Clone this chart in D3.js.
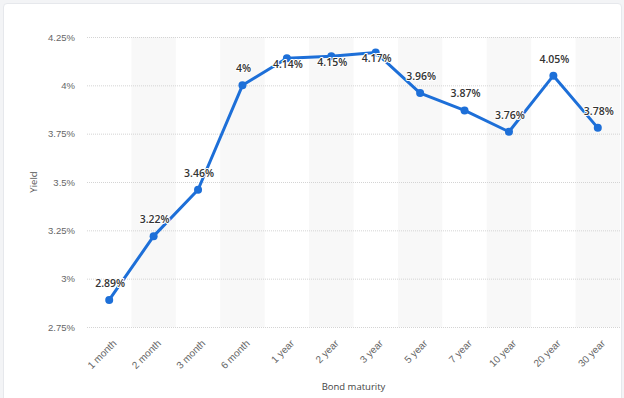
<!DOCTYPE html>
<html>
<head>
<meta charset="utf-8">
<script src="https://cdn.jsdelivr.net/npm/d3@7"></script>
<style>
  body { margin: 0; background: #f3f4f6; }
  #chart { position: absolute; left: 3px; top: 3px; width: 619px; height: 400px; background: #fff;
           border: 1px solid #e6e8ec; border-radius: 4px; box-sizing: border-box; }
  svg { position: absolute; left: 0; top: 0; font-family: "Open Sans", sans-serif; }
</style>
</head>
<body>
<div id="chart"></div>
<svg id="svg" width="624" height="398"></svg>
<script>
var maturities = ["1 month", "2 month", "3 month", "6 month", "1 year", "2 year",
                  "3 year", "5 year", "7 year", "10 year", "20 year", "30 year"];
var yields = [2.89, 3.22, 3.46, 4, 4.14, 4.15, 4.17, 3.96, 3.87, 3.76, 4.05, 3.78];
var yTicks = [2.75, 3, 3.25, 3.5, 3.75, 4, 4.25];

var margin = {top: 37, right: 3, bottom: 71, left: 87},
    width = 624 - margin.left - margin.right,
    height = 398 - margin.top - margin.bottom;

var x = d3.scaleBand().domain(maturities).range([0, 533]);
var y = d3.scaleLinear().domain([2.75, 4.25]).range([height, 0]);

var svg = d3.select("#svg").append("g")
    .attr("transform", "translate(" + margin.left + "," + margin.top + ")");

// alternating column bands
svg.selectAll("rect.band")
    .data(maturities.filter(function(d, i) { return i % 2 === 1; }))
  .enter().append("rect")
    .attr("class", "band")
    .attr("x", function(d) { return x(d); })
    .attr("y", 0)
    .attr("width", x.bandwidth())
    .attr("height", height)
    .attr("fill", "#f8f8f8");

// grid + y labels
svg.append("g")
    .call(d3.axisLeft(y).tickValues(yTicks).tickSize(-width)
      .tickFormat(function(d) { return d3.format("")(d) + "%"; }))
    .call(function(g) {
      g.select(".domain").remove();
      g.selectAll(".tick line").attr("stroke", "#d4d4d4").attr("stroke-dasharray", "1,1");
      g.selectAll(".tick text").attr("x", -12).attr("fill", "#666").attr("font-size", "9.5px");
    });

// x labels
svg.append("g")
    .attr("transform", "translate(0," + height + ")")
    .call(d3.axisBottom(x).tickSize(0))
    .call(function(g) {
      g.select(".domain").remove();
      g.selectAll(".tick text")
        .attr("fill", "#666").attr("font-size", "10px")
        .attr("text-anchor", "end")
        .attr("dy", null).attr("y", 0)
        .attr("transform", "translate(8,17) rotate(-45)");
    });

// axis titles
svg.append("text")
    .attr("transform", "translate(-50," + height / 2 + ") rotate(-90)")
    .attr("text-anchor", "middle")
    .attr("font-size", "9.5px").attr("fill", "#555")
    .text("Yield");

svg.append("text")
    .attr("x", 533 / 2).attr("y", height + 63)
    .attr("text-anchor", "middle")
    .attr("font-size", "9.5px").attr("fill", "#444")
    .text("Bond maturity");

var cx = function(d, i) { return x(maturities[i]) + x.bandwidth() / 2; };

var line = d3.line()
    .x(function(d, i) { return cx(d, i); })
    .y(function(d) { return y(d); });

svg.append("path")
    .datum(yields)
    .attr("fill", "none")
    .attr("stroke", "#1d6fd8")
    .attr("stroke-width", 3)
    .attr("stroke-linejoin", "round")
    .attr("d", line);

svg.selectAll("circle.pt")
    .data(yields)
  .enter().append("circle")
    .attr("class", "pt")
    .attr("cx", cx)
    .attr("cy", function(d) { return y(d); })
    .attr("r", 4)
    .attr("fill", "#1d6fd8");

// data labels; those too close to the top get pushed onto the line
svg.selectAll("text.lbl")
    .data(yields)
  .enter().append("text")
    .attr("class", "lbl")
    .attr("x", function(d, i) { return cx(d, i) + 1; })
    .attr("y", function(d) { var py = y(d); return py < 30 ? py + 10 : py - 13; })
    .attr("text-anchor", "middle")
    .attr("font-size", "10.5px")
    .attr("font-weight", 600)
    .attr("fill", "#333")
    .attr("stroke", "#fff").attr("stroke-width", 2).attr("paint-order", "stroke")
    .attr("stroke-linejoin", "round")
    .text(function(d) { return d + "%"; });
</script>
</body>
</html>
